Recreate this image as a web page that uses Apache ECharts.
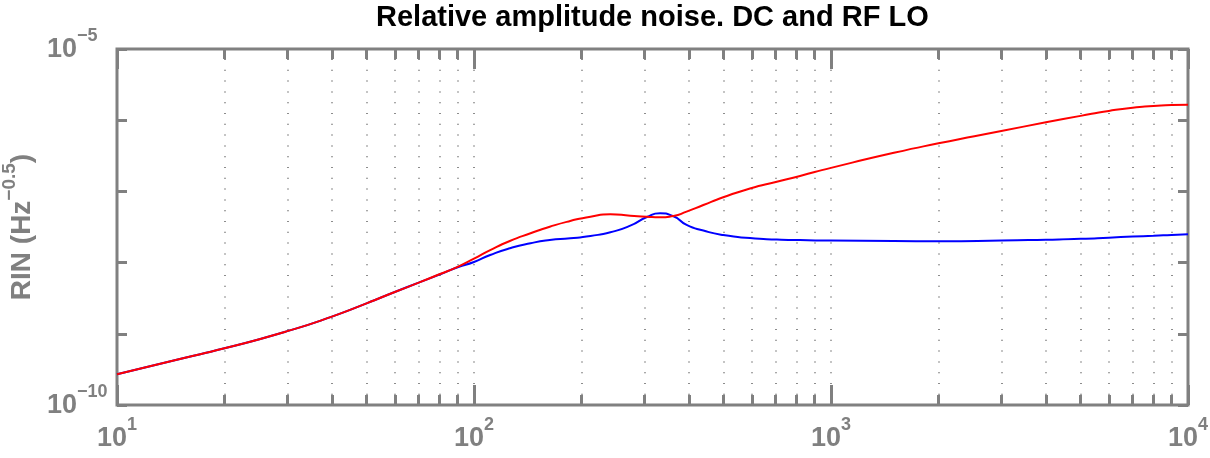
<!DOCTYPE html>
<html>
<head>
<meta charset="utf-8">
<title>Relative amplitude noise. DC and RF LO</title>
<script src="https://cdn.jsdelivr.net/npm/echarts@6.0.0/dist/echarts.min.js"></script>
<style>
  html, body { margin: 0; padding: 0; background: #fff; }
  #chart { width: 1210px; height: 458px; }
</style>
</head>
<body>
<div id="chart"></div>
<script>
// frequency points (Hz)
const freq = [10, 15, 20, 30, 40, 50, 60, 70, 80, 90, 100, 111, 126, 144, 163, 186, 212, 241, 274, 305,
  332, 362, 394, 439, 499, 593, 705, 819, 1000, 1500, 2000, 3000, 4000, 5000, 6000, 7000, 8000, 9000, 10000]

// red curve (Hz^-0.5)
const rinRed = [2.70e-10, 4.43e-10, 6.25e-10, 1.09e-9, 1.74e-9, 2.68e-9, 3.86e-9, 5.24e-9, 6.85e-9, 8.73e-9,
  1.14e-8, 1.50e-8, 2.01e-8, 2.58e-8, 3.19e-8, 3.84e-8, 4.42e-8, 4.76e-8, 4.56e-8, 4.40e-8,
  4.33e-8, 4.51e-8, 5.19e-8, 6.44e-8, 8.26e-8, 1.10e-7, 1.37e-7, 1.65e-7, 2.14e-7, 3.48e-7,
  4.73e-7, 7.05e-7, 9.33e-7, 1.15e-6, 1.35e-6, 1.50e-6, 1.58e-6, 1.64e-6, 1.65e-6]

// blue curve (Hz^-0.5)
const rinBlue = [2.70e-10, 4.43e-10, 6.25e-10, 1.09e-9, 1.74e-9, 2.68e-9, 3.86e-9, 5.24e-9, 6.80e-9, 8.61e-9,
  1.02e-8, 1.28e-8, 1.59e-8, 1.87e-8, 2.07e-8, 2.19e-8, 2.37e-8, 2.67e-8, 3.30e-8, 4.37e-8,
  4.92e-8, 4.47e-8, 3.39e-8, 2.82e-8, 2.44e-8, 2.21e-8, 2.11e-8, 2.07e-8, 2.04e-8, 2.01e-8,
  2.00e-8, 2.04e-8, 2.10e-8, 2.16e-8, 2.24e-8, 2.32e-8, 2.38e-8, 2.45e-8, 2.51e-8]

// minor tick / dotted grid positions on the frequency axis
const xGridTicks = [20, 30, 40, 50, 60, 70, 80, 90, 100, 200, 300, 400, 500, 600, 700, 800, 900, 1000,
  2000, 3000, 4000, 5000, 6000, 7000, 8000, 9000]

// only these decades carry a label on the y axis
const yLabelExps = [-10, -5]

const gray = '#808080'
const font = "'Liberation Sans', Arial, Helvetica, sans-serif"

const chart = echarts.init(document.getElementById('chart'), null, { renderer: 'canvas' })

// "10" sits at the bottom of a tall line, the exponent at its top
const tickRich = {
  b: { fontSize: 27, fontWeight: 'bold', color: gray, fontFamily: font, lineHeight: 36, verticalAlign: 'bottom' },
  s: { fontSize: 18, fontWeight: 'bold', color: gray, fontFamily: font, verticalAlign: 'top' }
}

const supLabel = (v) => {
  const e = Math.round(Math.log10(v))
  return '{b|10}{s|' + (e < 0 ? '\u2212' + (-e) : e) + '}'
}

const majorTick = { show: true, inside: true, length: 20, lineStyle: { color: gray, width: 3 } }
const minorTick = { show: true, inside: true, length: 10, lineStyle: { color: gray, width: 3 } }
const yTick = { show: true, inside: true, length: 10, lineStyle: { color: gray, width: 3 } }
const xLogMin = Math.log10(freq[0])
const xLogMax = Math.log10(freq[freq.length - 1])
const xGridLog = xGridTicks.map(v => Math.log10(v))

const option = {
  animation: false,
  backgroundColor: '#fff',
  title: {
    text: 'Relative amplitude noise. DC and RF LO',
    left: 376,
    top: 3,
    padding: 0,
    textStyle: { fontSize: 29, fontWeight: 'bold', color: '#000', fontFamily: font }
  },
  grid: {
    left: 117, right: 22, top: 49, bottom: 53,
    show: true, borderColor: gray, borderWidth: 3,
    outerBoundsMode: 'none'
  },
  xAxis: [
    {
      type: 'log', logBase: 10, min: 10, max: 10000, position: 'bottom',
      axisLine: { show: false },
      axisTick: majorTick,
      splitLine: { show: false },
      axisLabel: { margin: 11, formatter: supLabel, rich: tickRich }
    },
    {
      type: 'log', logBase: 10, min: 10, max: 10000, position: 'top',
      axisLine: { show: false },
      axisTick: majorTick,
      splitLine: { show: false },
      axisLabel: { show: false }
    },
    {
      type: 'value', min: xLogMin, max: xLogMax, position: 'bottom',
      axisLine: { show: false },
      axisTick: Object.assign({ customValues: xGridLog }, minorTick),
      axisLabel: { show: false },
      splitLine: { show: true, lineStyle: { color: '#8c8c8c', width: 2, type: [1, 9.8], dashOffset: -10 } }
    },
    {
      type: 'value', min: xLogMin, max: xLogMax, position: 'top',
      axisLine: { show: false },
      axisTick: Object.assign({ customValues: xGridLog }, minorTick),
      axisLabel: { show: false },
      splitLine: { show: false }
    }
  ],
  yAxis: [
    {
      type: 'log', logBase: 10, min: 1e-10, max: 1e-5, position: 'left',
      axisLine: { show: false },
      axisTick: yTick,
      splitLine: { show: false },
      axisLabel: {
        margin: 70,
        align: 'left',
        padding: [0, 0, 7, 0],
        formatter: (v) => yLabelExps.includes(Math.round(Math.log10(v))) ? supLabel(v) : '',
        rich: tickRich
      },
      name: '{n|RIN (Hz}{s|\u22120.5}{n|)}',
      nameLocation: 'middle',
      nameGap: 76,
      nameRotate: 90,
      nameTextStyle: {
        rich: {
          n: { fontSize: 28, fontWeight: 'bold', color: gray, fontFamily: font, lineHeight: 36, verticalAlign: 'bottom' },
          s: { fontSize: 19, fontWeight: 'bold', color: gray, fontFamily: font, verticalAlign: 'top' }
        }
      }
    },
    {
      type: 'log', logBase: 10, min: 1e-10, max: 1e-5, position: 'right',
      axisLine: { show: false },
      axisTick: yTick,
      splitLine: { show: false },
      axisLabel: { show: false }
    }
  ],
  series: [
    {
      name: 'blue',
      type: 'line',
      xAxisIndex: 0,
      yAxisIndex: 0,
      data: freq.map((f, i) => [f, rinBlue[i]]),
      showSymbol: false,
      smooth: 0.6,
      lineStyle: { color: '#0000ff', width: 2 },
      itemStyle: { color: '#0000ff' }
    },
    {
      name: 'red',
      type: 'line',
      xAxisIndex: 0,
      yAxisIndex: 0,
      data: freq.map((f, i) => [f, rinRed[i]]),
      showSymbol: false,
      smooth: 0.6,
      lineStyle: { color: '#ff0000', width: 2 },
      itemStyle: { color: '#ff0000' }
    }
  ]
}

chart.setOption(option)
</script>
</body>
</html>
